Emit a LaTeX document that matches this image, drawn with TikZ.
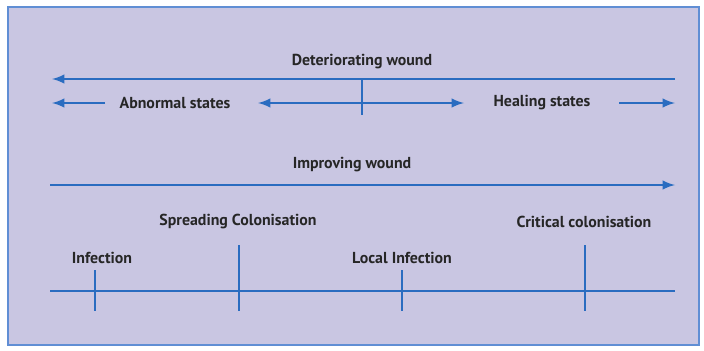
\documentclass[tikz,border=0pt]{standalone}
\usepackage{fontspec}
\setmainfont{PT Sans}
\definecolor{LineBlue}{RGB}{42,108,192}
\definecolor{PanelLilac}{RGB}{201,198,226}
\definecolor{FrameBlue}{RGB}{96,142,212}
\begin{document}
\begin{tikzpicture}[
        x=0.025cm, y=-0.025cm,
        lbl/.style={font=\bfseries\fontsize{11.3}{13}\selectfont, text=black!85, inner sep=1pt},
        axis/.style={LineBlue, line width=2pt},
        arrow/.style={axis, -latex},
        tick/.style={LineBlue, line width=2pt}
    ]
        \useasboundingbox (0,0) rectangle (704,350);
        \draw[FrameBlue, fill=PanelLilac, line width=1.3pt] (8,7) rectangle (699,345);

        % deteriorating wound
        \node[lbl] (det) at (362,62) {Deteriorating wound};
        \coordinate (detR) at (675,79);
        \coordinate (detL) at (52,79);
        \draw[arrow] (detR) -- (detL);

        % abnormal / healing states
        \node[lbl] (abn) at (175,103) {Abnormal states};
        \node[lbl] (heal) at (542,103) {Healing states};
        \coordinate (abnA) at (105,103);
        \coordinate (abnB) at (52,103);
        \coordinate (pivot) at (362,103);
        \coordinate (pivotTop) at (362,79);
        \coordinate (pivotBot) at (362,115);
        \coordinate (midL) at (258,103);
        \coordinate (midR) at (464,103);
        \coordinate (healA) at (619,103);
        \coordinate (healB) at (675,103);
        \draw[arrow] (abnA) -- (abnB);
        \draw[arrow] (pivot) -- (midL);
        \draw[arrow] (pivot) -- (midR);
        \draw[tick] (pivotTop) -- (pivotBot);
        \draw[arrow] (healA) -- (healB);

        % improving wound
        \node[lbl] (imp) at (352,165) {Improving wound};
        \coordinate (impL) at (50,185);
        \coordinate (impR) at (675,185);
        \draw[arrow] (impL) -- (impR);

        % stages
        \node[lbl] (inf) at (102,258) {Infection};
        \node[lbl] (spread) at (238,222) {Spreading Colonisation};
        \node[lbl] (local) at (402,258) {Local Infection};
        \node[lbl] (crit) at (584,222) {Critical colonisation};
        \coordinate (baseL) at (50,291);
        \coordinate (baseR) at (675,291);
        \draw[axis] (baseL) -- (baseR);
        \foreach \name/\x/\top in {infT/95/270, spreadT/239/245, localT/402/270, critT/585/245} {
            \coordinate (\name) at (\x,\top);
            \coordinate (\name B) at (\x,311);
            \draw[tick] (\name) -- (\name B);
        }
    \end{tikzpicture}
\end{document}
